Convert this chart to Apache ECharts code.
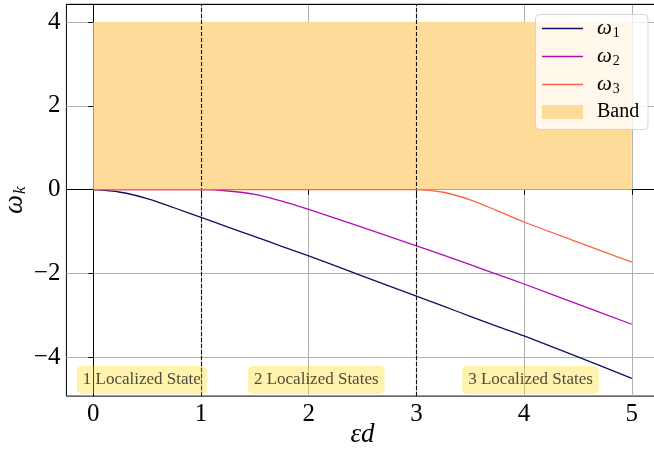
<!DOCTYPE html>
<html><head><meta charset="utf-8">
<script src="https://cdn.jsdelivr.net/npm/echarts@6/dist/echarts.min.js"></script>
<style>html,body{margin:0;padding:0;background:#fff}#c{width:654px;height:455px}</style>
</head><body><div id="c"></div>
<script>
// ---- data ----
const xValues = [0, 0.25, 0.5, 0.75, 1, 1.25, 1.5, 1.75, 2, 2.5, 3, 3.25, 3.5, 3.75, 4, 4.5, 5];
const omega1  = [0, -0.06, -0.21, -0.43, -0.66, -0.89, -1.12, -1.35, -1.58, -2.06, -2.54, -2.78, -3.02, -3.26, -3.49, -3.99, -4.50];
const omega2  = [0, 0, 0, 0, 0, -0.03, -0.11, -0.27, -0.47, -0.90, -1.34, -1.56, -1.79, -2.02, -2.25, -2.73, -3.21];
const omega3  = [0, 0, 0, 0, 0, 0, 0, 0, 0, 0, 0, -0.06, -0.24, -0.50, -0.77, -1.25, -1.73];
const seriesNames = ['ω1', 'ω2', 'ω3'];
const bandName = 'Band';
const bandX = [0, 5];
const bandY = [0, 4];
const regionBoundaries = [1, 3];
const xTicks = [0, 1, 2, 3, 4, 5];
const yTicks = [-4, -2, 0, 2, 4];
const annotationText = ['1 Localized State', '2 Localized States', '3 Localized States'];
const annotationX = [0.45, 2.07, 4.06];
const annotationY = [-4.54, -4.54, -4.54];

// ---- styles ----
const FONT = "'Liberation Serif', 'DejaVu Serif', serif";
const lineColors = ['#101060', '#b010b0', '#ff6347'];
const bandColor = '#ffdb99';
const minus = v => String(v).replace('-', '\u2212');
const lineIcon = 'path://M0,0L41,0L41,1.4L0,1.4Z';

const pairs = ys => xValues.map((x, i) => [x, ys[i]]);
const lineSeries = [omega1, omega2, omega3].map((ys, i) => ({
  name: seriesNames[i], type: 'line', data: pairs(ys), symbol: 'none', showSymbol: false,
  smooth: 0.3,
  lineStyle: { color: lineColors[i], width: 1.3 }, itemStyle: { color: lineColors[i] }, z: 3 + i
}));

const chart = echarts.init(document.getElementById('c'), null, { renderer: 'canvas' });
chart.setOption({
  animation: false,
  backgroundColor: '#fff',
  grid: { left: 66.4, right: -4.7, top: 4.3, bottom: 58.9, show: true, borderColor: '#000', borderWidth: 1,
    containLabel: false, outerBoundsMode: 'none' },
  xAxis: [{
    type: 'value', min: -0.25, max: 5.25,
    axisLine: { show: true, lineStyle: { color: '#000', width: 1 } },
    axisTick: { show: true, customValues: xTicks, length: 5, lineStyle: { color: '#000' } },
    axisLabel: { customValues: xTicks, fontSize: 25, fontFamily: FONT, color: '#000', margin: 6, formatter: minus },
    splitLine: { show: true, lineStyle: { color: '#b0b0b0', width: 1 } },
    name: 'εd', nameLocation: 'middle', nameGap: 25, nameMoveOverlap: false,
    nameTextStyle: { fontSize: 27, fontFamily: FONT, fontStyle: 'italic', color: '#000' }
  }, {
    type: 'value', position: 'top', min: -0.25, max: 5.25,
    axisLine: { show: true, lineStyle: { color: '#000', width: 1 } },
    axisTick: { show: false }, axisLabel: { show: false }, splitLine: { show: false }
  }],
  yAxis: {
    type: 'value', min: -4.925, max: 4.425,
    axisLine: { show: true, lineStyle: { color: '#000', width: 1 } },
    axisTick: { show: true, customValues: yTicks, length: 5, lineStyle: { color: '#000' } },
    axisLabel: { customValues: yTicks, fontSize: 25, fontFamily: FONT, color: '#000', margin: 6, formatter: minus },
    splitLine: { show: true, lineStyle: { color: '#b0b0b0', width: 1 } },
    name: '{w|ω}{s|k}', nameLocation: 'middle', nameGap: 37, nameRotate: 90, nameMoveOverlap: false,
    nameTextStyle: { rich: {
      w: { fontSize: 27, fontFamily: FONT, fontStyle: 'italic', color: '#000' },
      s: { fontSize: 17, fontFamily: FONT, fontStyle: 'italic', color: '#000', padding: [11, 0, 0, 1] }
    } }
  },
  legend: {
    data: [
      { name: seriesNames[0], icon: lineIcon }, { name: seriesNames[1], icon: lineIcon }, { name: seriesNames[2], icon: lineIcon },
      { name: bandName, icon: 'rect', itemStyle: { color: bandColor, opacity: 1 } }
    ],
    orient: 'vertical', left: 542, top: 18, itemWidth: 41, itemHeight: 14, itemGap: 6, padding: 0,
    formatter: n => n === bandName ? '{sp|}{b|Band}' : '{sp|}{w|ω}{s|' + n.slice(1) + '}',
    textStyle: { rich: {
      sp: { width: 9 },
      w: { fontSize: 21, fontFamily: FONT, fontStyle: 'italic', color: '#000' },
      s: { fontSize: 14, fontFamily: FONT, color: '#000', padding: [9, 0, 0, 1] },
      b: { fontSize: 20, fontFamily: FONT, color: '#000' }
    } },
    z: 10
  },
  graphic: [{
    type: 'rect', shape: { x: 535.5, y: 14.5, width: 112.5, height: 115, r: 4 },
    style: { fill: 'rgba(255,255,255,0.8)', stroke: 'rgba(204,204,204,0.8)', lineWidth: 1 }, z: 8
  }],
  series: [
    {
      name: bandName, type: 'line', data: [], symbol: 'none', z: 1,
      itemStyle: { color: bandColor }, lineStyle: { width: 0 },
      markArea: { silent: true, itemStyle: { color: bandColor, opacity: 1 },
        data: [[{ coord: [bandX[0], bandY[0]] }, { coord: [bandX[1], bandY[1]] }]] },
      markLine: { silent: true, symbol: ['none', 'none'], label: { show: false },
        lineStyle: { color: '#111', width: 1.1, type: [4, 2] },
        data: regionBoundaries.map(v => ({ xAxis: v })) }
    },
    ...lineSeries,
    {
      name: 'annotations', type: 'scatter', symbolSize: 0, z: 7,
      data: annotationText.map((t, i) => [annotationX[i], annotationY[i], t]),
      label: { show: true, position: 'inside', formatter: p => p.value[2],
        fontSize: 17, fontFamily: FONT, color: '#222',
        backgroundColor: 'rgba(255,215,0,0.4)', borderRadius: 5, padding: [6, 6, 5, 6] }
    }
  ]
});
</script></body></html>
